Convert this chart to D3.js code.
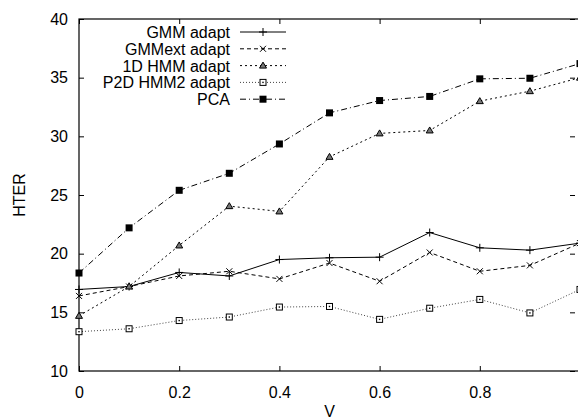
<!DOCTYPE html>
<html>
<head>
<meta charset="utf-8">
<script src="https://cdn.jsdelivr.net/npm/d3@7"></script>
<style>
  body { margin: 0; background: #fff; }
  text { font-family: "Liberation Sans", Arial, sans-serif; font-size: 16px; fill: #000; }
</style>
</head>
<body>
<div id="chart"></div>
<script>
// data
var vValues = [0, 0.1, 0.2, 0.3, 0.4, 0.5, 0.6, 0.7, 0.8, 0.9, 1.0];
var gmmAdapt = [16.95, 17.2, 18.4, 18.1, 19.5, 19.65, 19.7, 21.8, 20.5, 20.3, 20.9];
var gmmExtAdapt = [16.4, 17.2, 18.1, 18.5, 17.85, 19.2, 17.65, 20.1, 18.5, 19.0, 20.9];
var hmm1dAdapt = [14.7, 17.2, 20.7, 24.05, 23.6, 28.25, 30.25, 30.5, 33.0, 33.85, 35.0];
var p2dHmm2Adapt = [13.35, 13.6, 14.3, 14.6, 15.45, 15.5, 14.4, 15.35, 16.1, 14.95, 16.95];
var pca = [18.35, 22.2, 25.4, 26.85, 29.35, 32.0, 33.05, 33.4, 34.9, 34.95, 36.2];

var seriesNames = ["GMM adapt", "GMMext adapt", "1D HMM adapt", "P2D HMM2 adapt", "PCA"];
var xTicks = [0, 0.2, 0.4, 0.6, 0.8];
var yTicks = [10, 15, 20, 25, 30, 35, 40];

// basic dimensions
var width = 578;
var height = 419;
var margin = { top: 19, right: -2, bottom: 48, left: 79 };

var xScale = d3.scaleLinear().domain([0, 1]).range([margin.left, width - margin.right]);
var yScale = d3.scaleLinear().domain([10, 40]).range([height - margin.bottom, margin.top]);

var svg = d3.select("#chart").append("svg")
    .attr("width", width)
    .attr("height", height);

// styles per series
var styles = [
    { values: gmmAdapt, dash: null, marker: "plus", colour: "#000" },
    { values: gmmExtAdapt, dash: "4,3", marker: "cross", colour: "#000" },
    { values: hmm1dAdapt, dash: "2,3", marker: "triangle", colour: "#000" },
    { values: p2dHmm2Adapt, dash: "1,2", marker: "openSquare", colour: "#444" },
    { values: pca, dash: "6,3,1,3", marker: "square", colour: "#000" }
];

var series = seriesNames.map(function(name, i) {
    return {
        name: name,
        style: styles[i],
        points: vValues.map(function(v, j) { return { v: v, value: styles[i].values[j] }; })
    };
});

// frame
var x0 = xScale(0), x1 = xScale(1), y0 = yScale(10), y1 = yScale(40);
svg.append("rect")
    .attr("x", x0).attr("y", y1)
    .attr("width", x1 - x0).attr("height", y0 - y1)
    .attr("fill", "none").attr("stroke", "#000").attr("stroke-width", 1.2);

// axes (ticks pointing inward)
svg.append("g")
    .attr("transform", "translate(0," + y0 + ")")
    .call(d3.axisBottom(xScale).tickValues(xTicks).tickSize(-5).tickPadding(16)
        .tickFormat(function(d) { return d === 0 ? "0" : d3.format(".1f")(d); }))
    .call(function(g) { g.select(".domain").remove(); });

svg.append("g")
    .attr("transform", "translate(0," + y1 + ")")
    .call(d3.axisTop(xScale).tickValues(xTicks).tickSize(-5).tickFormat(""))
    .call(function(g) { g.select(".domain").remove(); });

svg.append("g")
    .attr("transform", "translate(" + x0 + ",0)")
    .call(d3.axisLeft(yScale).tickValues(yTicks).tickSize(-5).tickPadding(11))
    .call(function(g) { g.select(".domain").remove(); });

svg.append("g")
    .attr("transform", "translate(" + (width - 3) + ",0)")
    .call(d3.axisRight(yScale).tickValues(yTicks).tickSize(-5).tickFormat(""))
    .call(function(g) { g.select(".domain").remove(); });

svg.selectAll(".tick line").attr("stroke", "#000");
svg.selectAll(".tick text").style("font-size", "16px").style("font-family", "Liberation Sans, Arial, sans-serif");

// axis titles
svg.append("text")
    .attr("x", (x0 + x1) / 2)
    .attr("y", 417)
    .attr("text-anchor", "middle")
    .text("V");

svg.append("text")
    .attr("transform", "translate(25," + 195 + ") rotate(-90)")
    .attr("text-anchor", "middle")
    .text("HTER");

// line generator
var lineGen = d3.line()
    .x(function(d) { return xScale(d.v); })
    .y(function(d) { return yScale(d.value); });

function drawMarker(g, type, colour) {
    if (type === "plus") {
        g.append("path").attr("d", "M-4,0H4M0,-4V4").attr("stroke", colour).attr("stroke-width", 1);
    } else if (type === "cross") {
        g.append("path").attr("d", "M-3,-3L3,3M-3,3L3,-3").attr("stroke", colour).attr("stroke-width", 1);
    } else if (type === "triangle") {
        g.append("path").attr("d", "M0,-3.5L3.5,2.5L-3.5,2.5Z")
            .attr("fill", "#777").attr("stroke", colour).attr("stroke-width", 1);
    } else if (type === "openSquare") {
        g.append("rect").attr("x", -3).attr("y", -3).attr("width", 6).attr("height", 6)
            .attr("fill", "#fff").attr("stroke", "#000").attr("stroke-width", 1);
        g.append("rect").attr("x", -0.7).attr("y", -0.7).attr("width", 1.4).attr("height", 1.4)
            .attr("fill", "#000");
    } else if (type === "square") {
        g.append("rect").attr("x", -3.5).attr("y", -3.5).attr("width", 7).attr("height", 7)
            .attr("fill", colour);
    }
}

// lines + markers
var groups = svg.selectAll(".lineGroup")
    .data(series)
    .enter()
    .append("g")
    .attr("class", "lineGroup");

groups.append("path")
    .attr("d", function(d) { return lineGen(d.points); })
    .attr("fill", "none")
    .attr("stroke", function(d) { return d.style.colour; })
    .attr("stroke-width", 1)
    .attr("stroke-dasharray", function(d) { return d.style.dash; });

groups.each(function(d) {
    var grp = d3.select(this);
    d.points.forEach(function(p) {
        var m = grp.append("g")
            .attr("transform", "translate(" + xScale(p.v) + "," + yScale(p.value) + ")");
        drawMarker(m, d.style.marker, "#000");
    });
});

// legend
var legend = svg.append("g").attr("class", "legend");
series.forEach(function(s, i) {
    var ly = 32 + i * 16.8;
    legend.append("text")
        .attr("x", 230)
        .attr("y", ly + 6)
        .attr("text-anchor", "end")
        .text(s.name);
    legend.append("line")
        .attr("x1", 240).attr("x2", 286)
        .attr("y1", ly).attr("y2", ly)
        .attr("stroke", s.style.colour)
        .attr("stroke-width", 1)
        .attr("stroke-dasharray", s.style.dash);
    var m = legend.append("g").attr("transform", "translate(263," + ly + ")");
    drawMarker(m, s.style.marker, "#000");
});
</script>
</body>
</html>
